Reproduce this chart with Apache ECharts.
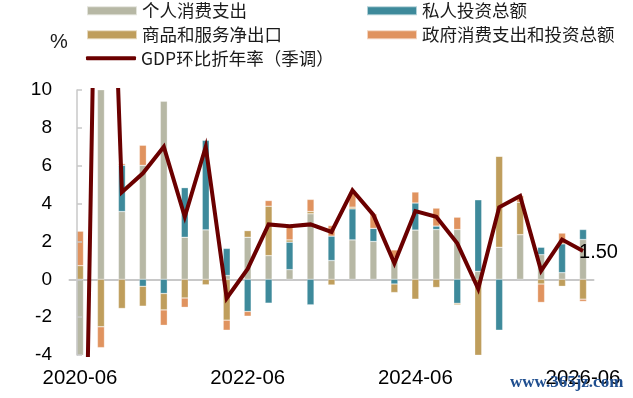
<!DOCTYPE html>
<html lang="zh">
  <head>
    <meta charset="UTF-8" />
    <title>GDP环比折年率及分项拉动</title>
    <script src="https://cdn.jsdelivr.net/npm/echarts@6/dist/echarts.min.js"></script>
    <style>
      html,
      body {
        margin: 0;
        padding: 0;
        background: #fff;
      }
      .box {
        width: 633px;
        height: 398px;
      }
    </style>
  </head>
  <body>
    <div class="box"></div>
    <script>
      // 季度（季末月份）
      var quarters = [
        "2020-06", "2020-09", "2020-12", "2021-03", "2021-06", "2021-09", "2021-12",
        "2022-03", "2022-06", "2022-09", "2022-12", "2023-03", "2023-06", "2023-09",
        "2023-12", "2024-03", "2024-06", "2024-09", "2024-12", "2025-03", "2025-06",
        "2025-09", "2025-12", "2026-03", "2026-06"
      ];
      // x轴显示的标签
      var xTickLabels = ["2020-06", "2022-06", "2024-06", "2026-06"];
      // y轴刻度
      var yTicks = [-4, -2, 0, 2, 4, 6, 8, 10];

      // 各分项对GDP的拉动（百分点）
      var consumption = [-23.3, 25.5, 3.58, 6.02, 9.41, 2.22, 2.61, 0.2, 2.22, 1.25, 0.51, 3.46, 0.99,
        2.08, 2.0, 1.15, 2.6, 2.63, 2.63, 0.42, 1.69, 2.36, 1.3, 0.35, 2.1];
      var investment = [-7.2, 13.3, 2.44, -0.37, -0.75, 2.62, 4.73, 1.43, -1.7, -1.26, 1.45, -1.35, 1.29,
        1.64, 0.69, -0.25, 1.43, 0.18, -1.27, 3.78, -2.69, 0, 0.39, 1.52, 0.53];
      var netExports = [0.72, -2.51, -1.54, -1.05, -0.87, -0.99, -0.3, -2.16, 0.35, 2.61, 0.12, 0.12, -0.3,
        0.09, 0, -0.45, -1.05, -0.43, -0.08, -4.61, 4.81, 1.71, -0.25, -0.37, -1.05];
      var government = [1.82, -1.1, 0.09, 1.06, -0.81, -0.49, 0, -0.53, -0.25, 0.3, 0.67, 0.64, 0.56,
        0.8, 0.76, 0.4, 0.58, 0.95, 0.65, -0.1, 0, 0.35, -0.97, 0.57, -0.12];
      // GDP环比折年率
      var gdp = [-28.0, 35.2, 4.6, 5.6, 7.0, 3.3, 7.0, -1.0, 0.55, 2.9, 2.8, 2.9, 2.5, 4.7, 3.4, 0.85,
        3.6, 3.3, 1.9, -0.5, 3.8, 4.4, 0.45, 2.1, 1.5];

      var box = document.getElementsByClassName("box")[0];
      var chart = echarts.init(box, null, { renderer: "canvas" });

      var latin = "'Liberation Sans', Arial, sans-serif";
      var cjk = "'Noto Sans CJK SC', sans-serif";
      var axisGray = "#c8c8c8";

      function barSeries(name, arr, color) {
        return {
          name: name,
          type: "bar",
          stack: "total",
          barWidth: 7,
          data: arr,
          itemStyle: {
            color: color,
            borderColor: "rgba(255,255,255,0.6)",
            borderWidth: 0.5,
          },
        };
      }

      function legendAt(name, left, top, icon, h) {
        return {
          data: [name],
          left: left,
          top: top,
          padding: 0,
          icon: icon,
          itemWidth: 50,
          itemHeight: h,
          selectedMode: false,
          textStyle: { fontFamily: cjk, fontSize: 17.5, color: "#1a1a1a" },
        };
      }

      var series = [
        barSeries("个人消费支出", consumption, "#b7b8a5"),
        barSeries("私人投资总额", investment, "#3e8a9b"),
        barSeries("商品和服务净出口", netExports, "#bf9e5c"),
        barSeries("政府消费支出和投资总额", government, "#e0935f"),
        {
          name: "GDP环比折年率（季调）",
          type: "line",
          data: gdp,
          symbol: "none",
          z: 5,
          lineStyle: { width: 4, color: "#6b0000", join: "miter" },
          itemStyle: { color: "#6b0000" },
          endLabel: {
            show: true,
            distance: 0,
            offset: [-4, 2],
            fontFamily: latin,
            fontSize: 20,
            color: "#000",
            formatter: function (p) {
              return Number(p.value).toFixed(2);
            },
          },
        },
      ];

      chart.setOption({
        animation: false,
        title: {
          text: "%",
          left: 45,
          top: 27,
          textStyle: { fontFamily: latin, fontSize: 20, fontWeight: "normal", color: "#1a1a1a" },
        },
        legend: [
          legendAt("个人消费支出", 86, 2, "rect", 9),
          legendAt("私人投资总额", 366, 2, "rect", 9),
          legendAt("商品和服务净出口", 86, 26, "rect", 9),
          legendAt("政府消费支出和投资总额", 366, 26, "rect", 9),
          legendAt("GDP环比折年率（季调）", 86, 49.5, "roundRect", 4),
        ],
        grid: { left: 69.5, right: 39.5, top: 90, bottom: 43 },
        xAxis: [
          {
            // 0 轴线
            type: "category",
            data: quarters,
            boundaryGap: true,
            axisLine: { show: true, onZero: true, lineStyle: { color: axisGray, width: 2 } },
            axisTick: { show: false },
            axisLabel: { show: false },
            splitLine: { show: false },
          },
          {
            // 底部日期标签
            type: "category",
            data: quarters,
            position: "bottom",
            boundaryGap: true,
            axisLine: { show: false, onZero: false },
            axisTick: { show: false },
            splitLine: { show: false },
            axisLabel: {
              interval: function (idx, val) {
                return xTickLabels.indexOf(val) >= 0;
              },
              margin: 13,
              fontFamily: latin,
              fontSize: 20.4,
              color: "#000",
            },
          },
        ],
        yAxis: {
          type: "value",
          min: yTicks[0],
          max: yTicks[yTicks.length - 1],
          interval: 2,
          offset: -7.5,
          z: 3,
          axisLine: { show: true, lineStyle: { color: axisGray, width: 1.5 } },
          axisTick: { show: true, inside: true, length: 5, lineStyle: { color: axisGray, width: 1.5 } },
          splitLine: { show: false },
          axisLabel: { margin: 25, fontFamily: latin, fontSize: 19, color: "#000" },
        },
        graphic: [
          {
            type: "text",
            left: 510,
            top: 374,
            z: 10,
            style: {
              text: "www.365jz.com",
              font: "bold 17px 'Liberation Serif', serif",
              fill: "#1f4e8f",
            },
          },
        ],
        series: series,
      });
    </script>
  </body>
</html>
